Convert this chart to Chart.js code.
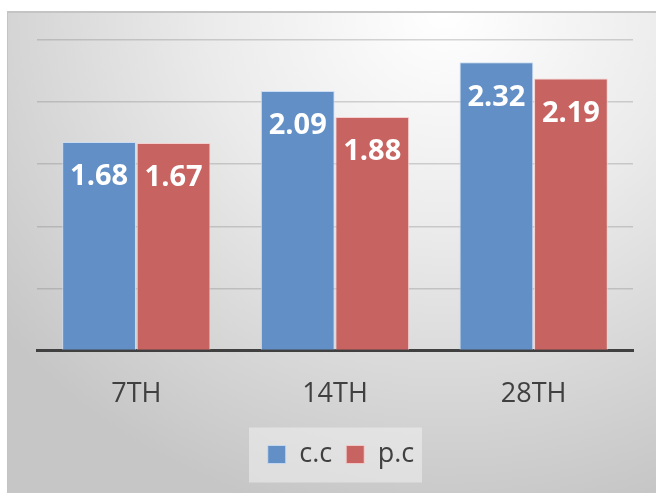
<!DOCTYPE html>
<html>
<head>
<meta charset="utf-8">
<script src="https://cdn.jsdelivr.net/npm/chart.js"></script>
<style>
html, body { margin:0; padding:0; background:#fff; overflow:hidden; }
#frame {
  position:absolute; left:7px; top:11px; width:660px; height:490px;
  border-top:2px solid #c4c4c4; border-left:1px solid #c4c4c4;
  background: radial-gradient(ellipse 85% 105% at 66% 0%, #ffffff 0%, #ebebeb 42%, #c6c6c6 100%);
}
#chart { position:absolute; left:0; top:0; }
</style>
</head>
<body>
<div id="frame"></div>
<canvas id="chart" width="656" height="493"></canvas>
<script>

// data
const days = ["7TH", "14TH", "28TH"]

const cc = [1.68, 2.09, 2.32]

const pc = [1.67, 1.88, 2.19]


// white value labels inside the bars
const valueLabels = {
id: "valueLabels",
afterDatasetsDraw(chart){
const ctx = chart.ctx
ctx.save()
ctx.fillStyle = "#ffffff"
ctx.font = "bold 29px 'Open Sans'"
ctx.textAlign = "center"
ctx.textBaseline = "middle"
chart.data.datasets.forEach((ds, i) => {
chart.getDatasetMeta(i).data.forEach((bar, j) => {
ctx.fillText(ds.data[j].toFixed(2), bar.x, bar.y + 35)
})
})
ctx.restore()
}
}


// nudge legend right, then draw the lighter box behind it
const legendBox = {
id: "legendBox",
afterLayout(chart){
const lg = chart.legend
lg.left += 6
lg.right += 6
},
beforeDraw(chart){
const lg = chart.legend
if(!lg || !lg.legendHitBoxes.length) return
const hb = lg.legendHitBoxes[0]
const mid = hb.top + hb.height / 2
const cx = (lg.left + lg.right) / 2 - 6
const ctx = chart.ctx
ctx.save()
ctx.fillStyle = "rgba(240,240,240,0.55)"
ctx.fillRect(cx - 86, mid - 27, 173, 55)
ctx.restore()
}
}


const ctx = document.getElementById("chart").getContext("2d")

new Chart(ctx, {

type: "bar",

data: {

labels: days,

datasets: [
{
label: "c.c",
data: cc,
backgroundColor: "#628fc5",
borderColor: "rgba(200,220,245,0.9)",
borderWidth: 1
},
{
label: "p.c",
data: pc,
backgroundColor: "#c76461",
borderColor: "rgba(245,205,205,0.9)",
borderWidth: 1
}
]

},

options: {

responsive: false,
animation: false,

layout: {
padding: { left: 37, right: 23, top: 40, bottom: 15 }
},

datasets: {
bar: { categoryPercentage: 0.75, barPercentage: 0.99 }
},

scales: {

x: {
grid: { display: false, drawTicks: false },
border: { display: true, color: "#404040", width: 3 },
ticks: {
color: "#404040",
padding: 28,
font: { family: "Open Sans", size: 27 }
},
afterFit(scale){
scale.height = scale.height - 12
}
},

y: {
min: 0,
max: 2.5,
grid: { color: "rgba(120,120,120,0.3)", lineWidth: 1.5, drawTicks: false },
border: { display: false },
ticks: { display: false, stepSize: 0.5 }
}

},

plugins: {
legend: {
position: "bottom",
labels: {
color: "#404040",
boxWidth: 18,
boxHeight: 18,
padding: 14,
font: { family: "Open Sans", size: 27 }
}
},
tooltip: { enabled: false }
}

},

plugins: [valueLabels, legendBox]

})

</script>
</body>
</html>
